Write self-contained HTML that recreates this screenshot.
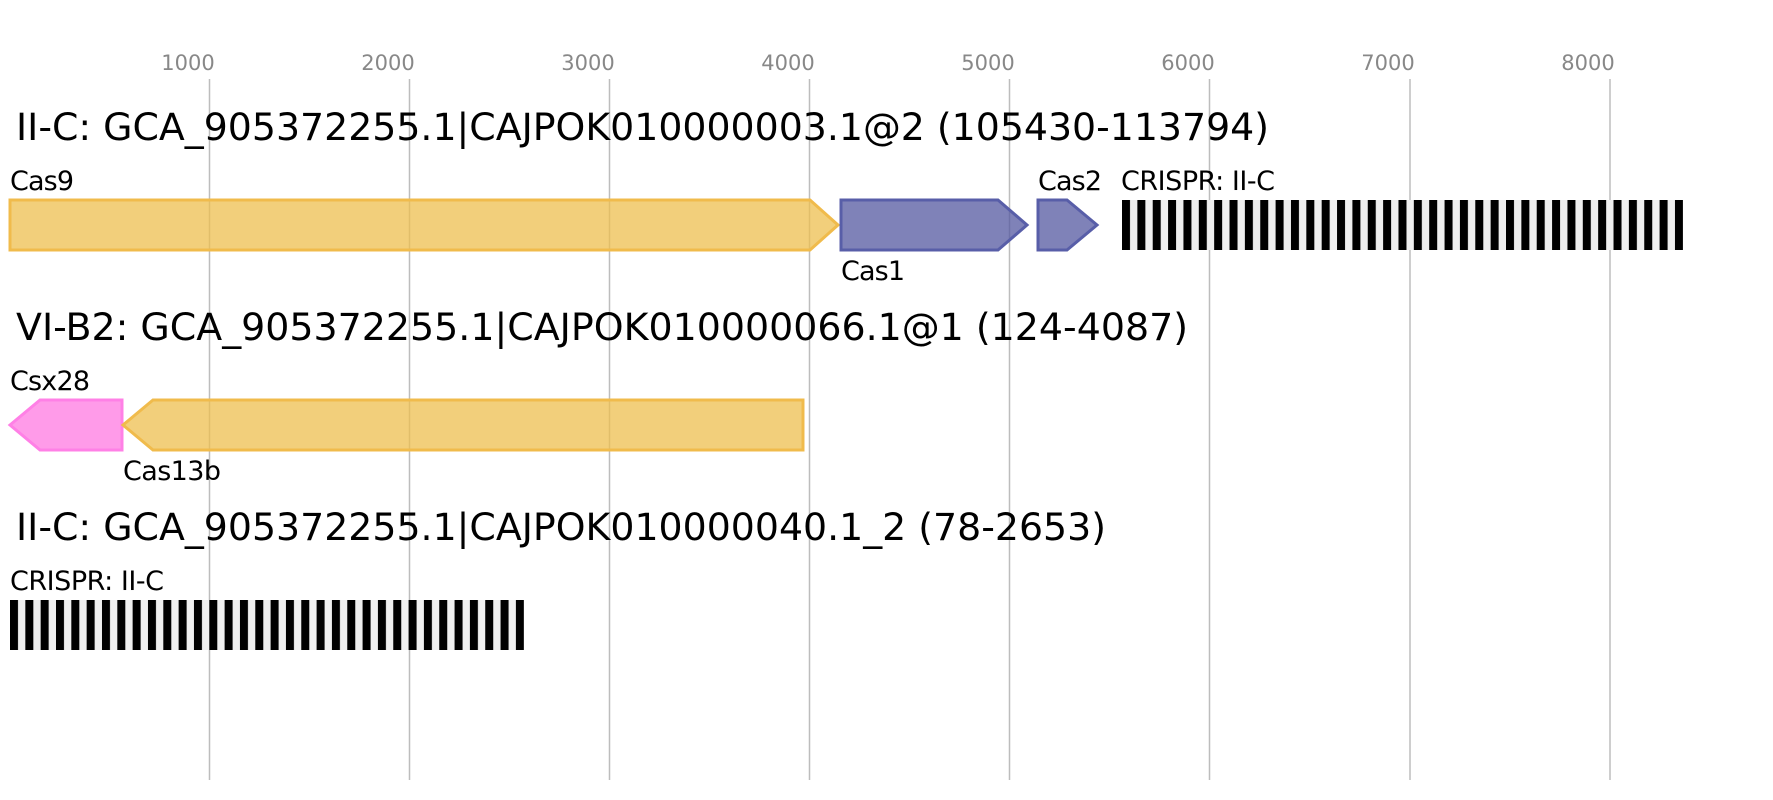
<!DOCTYPE html>
<html><head><meta charset="utf-8"><style>
html,body{margin:0;padding:0;background:#fff;}
svg{display:block;}
text{font-family:"DejaVu Sans","Liberation Sans",sans-serif;}
</style></head><body>
<svg width="1773" height="800" viewBox="0 0 1773 800" xmlns="http://www.w3.org/2000/svg">
<defs>
<pattern id="p1" x="1122" y="200" width="15.36" height="50" patternUnits="userSpaceOnUse"><rect width="8" height="50" fill="#000"/></pattern>
<pattern id="p3" x="10" y="600" width="15.33" height="50" patternUnits="userSpaceOnUse"><rect width="8" height="50" fill="#000"/></pattern>
</defs>
<g stroke="#bdbdbd" stroke-width="1.5">
<line x1="209.5" y1="79" x2="209.5" y2="780"/>
<line x1="409.5" y1="79" x2="409.5" y2="780"/>
<line x1="609.5" y1="79" x2="609.5" y2="780"/>
<line x1="809.5" y1="79" x2="809.5" y2="780"/>
<line x1="1009.5" y1="79" x2="1009.5" y2="780"/>
<line x1="1209.5" y1="79" x2="1209.5" y2="780"/>
<line x1="1410" y1="79" x2="1410" y2="780"/>
<line x1="1610" y1="79" x2="1610" y2="780"/>
</g>
<g fill="#888" font-size="21" text-anchor="middle">
<text x="188" y="70">1000</text><text x="388" y="70">2000</text><text x="588" y="70">3000</text><text x="788" y="70">4000</text>
<text x="988" y="70">5000</text><text x="1188" y="70">6000</text><text x="1388" y="70">7000</text><text x="1588" y="70">8000</text>
</g>
<g font-size="37" fill="#000">
<text x="16" y="140" textLength="1253" lengthAdjust="spacingAndGlyphs">II-C: GCA_905372255.1|CAJPOK010000003.1@2 (105430-113794)</text>
<text x="16" y="340" textLength="1172" lengthAdjust="spacingAndGlyphs">VI-B2: GCA_905372255.1|CAJPOK010000066.1@1 (124-4087)</text>
<text x="16" y="540" textLength="1090" lengthAdjust="spacingAndGlyphs">II-C: GCA_905372255.1|CAJPOK010000040.1_2 (78-2653)</text>
</g>
<g font-size="27" fill="#000" lengthAdjust="spacingAndGlyphs">
<text x="10" y="190" textLength="64">Cas9</text>
<text x="841" y="280" textLength="64">Cas1</text>
<text x="1038" y="190" textLength="64">Cas2</text>
<text x="1121" y="190" textLength="154">CRISPR: II-C</text>
<text x="10" y="390" textLength="80">Csx28</text>
<text x="123" y="480" textLength="98">Cas13b</text>
<text x="10" y="590" textLength="154">CRISPR: II-C</text>
</g>
<g stroke-width="3" fill-opacity="0.75">
<polygon points="10,200 810,200 838,225 810,250 10,250" fill="#eebf4f" stroke="#f0bb4c"/>
<polygon points="841,200 998,200 1027,225 998,250 841,250" fill="#5458a0" stroke="#585ea8"/>
<polygon points="1038,200 1067,200 1097,225 1067,250 1038,250" fill="#5458a0" stroke="#585ea8"/>
<polygon points="10,425 40,400 122,400 122,450 40,450" fill="#ff7ae2" stroke="#ff80e6"/>
<polygon points="123,425 153,400 803,400 803,450 153,450" fill="#eebf4f" stroke="#f0bb4c"/>
</g>
<rect x="1122" y="200" width="561" height="50" fill="#efefef"/>
<rect x="1122" y="200" width="561" height="50" fill="url(#p1)"/>
<rect x="10" y="600" width="514" height="50" fill="#efefef"/>
<rect x="10" y="600" width="514" height="50" fill="url(#p3)"/>
</svg>
</body></html>
